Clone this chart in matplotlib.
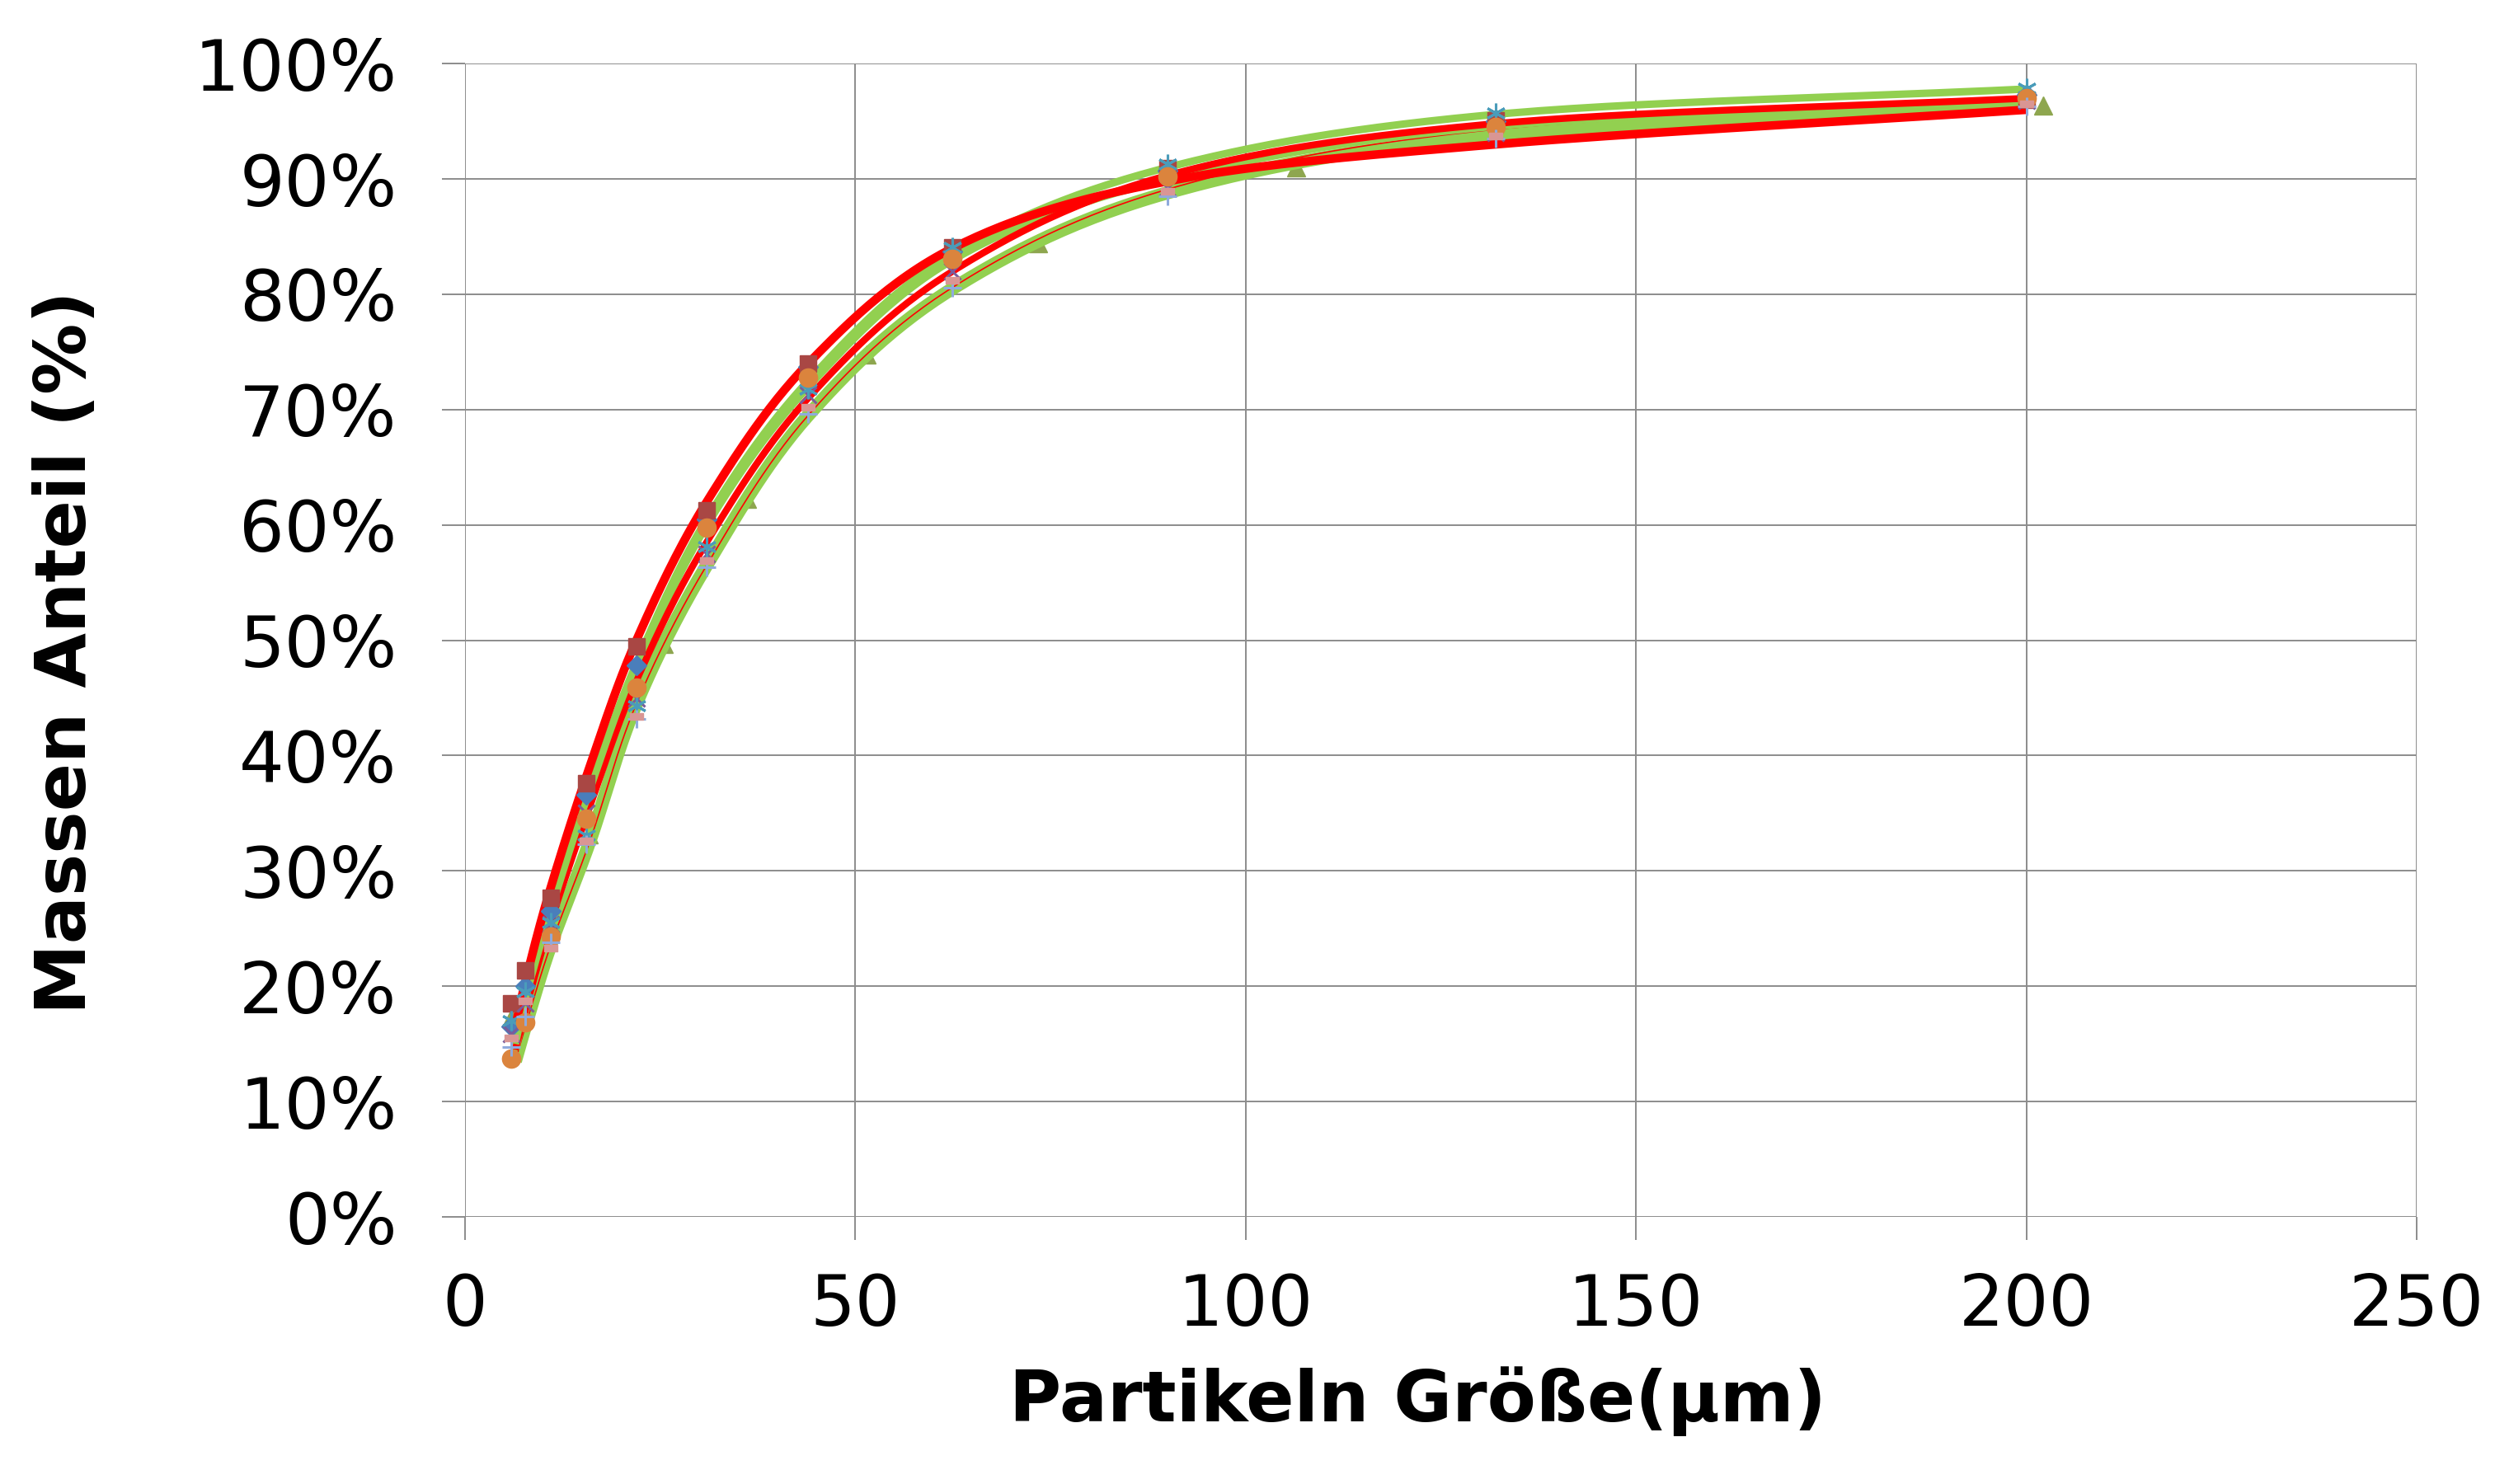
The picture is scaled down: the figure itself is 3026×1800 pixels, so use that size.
import numpy as np
import matplotlib
matplotlib.use("Agg")
import matplotlib.pyplot as plt
from matplotlib.path import Path

# ---------------- data ----------------
x_common = [6.0, 7.8, 11.0, 15.6, 22.0, 31.0, 44.0, 62.5, 90.0, 132.0, 200.0]

y_square = [18.5, 21.4, 27.7, 37.6, 49.5, 61.3, 74.0, 84.1, 90.9, 95.1, 96.9]
y_diamond = [16.5, 20.0, 26.5, 36.6, 47.8, 60.5, 73.7, 83.7, 90.7, 95.0, 97.3]
y_circle = [13.7, 16.9, 24.3, 34.5, 45.9, 59.8, 72.8, 83.1, 90.2, 94.5, 97.0]
y_asterisk = [17.0, 19.5, 25.5, 33.1, 44.3, 58.1, 71.8, 84.1, 91.3, 95.7, 97.9]
y_xmark = [15.9, 18.5, 25.4, 35.0, 45.0, 57.5, 71.3, 82.0, 89.2, 94.0, 96.8]
y_dash = [15.5, 18.7, 23.3, 32.6, 43.4, 56.9, 70.2, 81.2, 88.9, 93.7, 96.5]
y_plus = [14.7, 17.4, 23.8, 32.3, 43.2, 56.3, 69.6, 80.6, 88.5, 93.5, 96.3]

x_triangle = [6.0, 8.4, 10.9, 15.9, 25.5, 36.2, 51.5, 73.4, 106.5, 202.2]
y_triangle = [17.2, 21.7, 26.7, 33.2, 49.7, 62.3, 74.8, 84.4, 91.0, 96.4]

# smooth fitted curves (read at these sizes)
curve_x = [6.5, 8.0, 11.0, 16.0, 22.0, 31.0, 44.0, 62.5, 90.0, 132.0, 200.0]
red_1 = [16.5, 21.0, 28.5, 39.0, 50.0, 62.0, 74.0, 84.0, 89.8, 93.0, 96.0]
green_1 = [15.0, 19.5, 26.5, 37.0, 48.0, 60.5, 72.5, 83.5, 91.0, 95.6, 97.8]
green_2 = [14.5, 19.0, 26.0, 36.5, 47.5, 60.0, 72.0, 83.0, 90.0, 94.6, 96.7]
red_2 = [14.5, 18.5, 25.5, 35.5, 46.5, 58.5, 71.0, 82.0, 90.3, 94.8, 97.0]
green_3 = [13.5, 17.0, 23.5, 32.5, 44.5, 56.5, 69.5, 80.5, 88.8, 93.8, 96.3]
red_3 = [13.5, 17.0, 23.5, 32.5, 44.5, 56.5, 69.5, 80.6, 89.1, 94.3, 96.6]

x_ticks = [0, 50, 100, 150, 200, 250]
y_ticks = [0, 10, 20, 30, 40, 50, 60, 70, 80, 90, 100]

# ---------------- figure ----------------
W, H, DPI = 3026, 1800, 100
fig = plt.figure(figsize=(W / DPI, H / DPI), dpi=DPI)
fig.patch.set_facecolor("white")
ax = fig.add_axes([563.5 / W, 1 - 1476 / H, (2931 - 563.5) / W, (1476 - 77.2) / H])
ax.set_xlim(0, 250)
ax.set_ylim(0, 100)

GRID = "#8c8c8c"
ax.set_xticks(x_ticks)
ax.set_yticks(y_ticks)
ax.set_xticklabels([str(v) for v in x_ticks])
ax.set_yticklabels([f"{v}%" for v in y_ticks])
ax.grid(True, color=GRID, linewidth=1.4, zorder=0)
ax.set_axisbelow(True)
for s in ax.spines.values():
    s.set_visible(False)
ax.tick_params(axis="both", direction="out", length=20, width=1.4, color=GRID,
               labelsize=62, labelcolor="black")
ax.tick_params(axis="x", pad=28)
ax.tick_params(axis="y", pad=39)
for lab in ax.get_xticklabels() + ax.get_yticklabels():
    lab.set_fontfamily("DejaVu Sans")


def smooth(xs, ys, n=30):
    """Excel-like smoothed line: Catmull-Rom through the given points in display space."""
    pts = ax.transData.transform(np.column_stack([xs, ys]))
    P = np.vstack([pts[0] - (pts[1] - pts[0]), pts, pts[-1] + (pts[-1] - pts[-2])])
    out = []
    for i in range(1, len(P) - 2):
        p0, p1, p2, p3 = P[i - 1], P[i], P[i + 1], P[i + 2]
        t = np.linspace(0, 1, n, endpoint=False)[:, None]
        seg = 0.5 * ((2 * p1) + (-p0 + p2) * t + (2 * p0 - 5 * p1 + 4 * p2 - p3) * t ** 2
                     + (-p0 + 3 * p1 - 3 * p2 + p3) * t ** 3)
        out.append(seg)
    out.append(P[-2][None, :])
    out = np.vstack(out)
    d = ax.transData.inverted().transform(out)
    return d[:, 0], d[:, 1]


RED = "#ff0000"
GREEN = "#92d050"

# triangles lie below the curves
ax.plot(x_triangle, y_triangle, linestyle="none", marker="^", markersize=16,
        color="#8ea64f", markeredgecolor="#8ea64f", zorder=2)

# curves
for ys, col, lw, z in [
    (green_3, GREEN, 11.5, 3),
    (red_3, RED, 1.2, 3.1),
    (green_2, GREEN, 7.0, 3.2),
    (red_2, RED, 6.0, 3.3),
    (green_1, GREEN, 6.5, 3.4),
    (red_1, RED, 7.5, 3.5),
]:
    sx, sy = smooth(curve_x, ys)
    ax.plot(sx, sy, color=col, linewidth=lw, solid_capstyle="butt", zorder=z)

# other marker series on top
dash_marker = Path([(-1, -0.45), (1, -0.45), (1, 0.45), (-1, 0.45), (-1, -0.45)],
                   [Path.MOVETO, Path.LINETO, Path.LINETO, Path.LINETO, Path.CLOSEPOLY])

ax.plot(x_common, y_diamond, linestyle="none", marker="D", markersize=12,
        color="#4a7ebb", markeredgecolor="#4a7ebb", zorder=5)
ax.plot(x_common, y_square, linestyle="none", marker="s", markersize=15,
        color="#a94744", markeredgecolor="#a94744", zorder=5.1)
ax.plot(x_common, y_xmark, linestyle="none", marker="x", markersize=15,
        markeredgewidth=2.2, color="#7a5c9a", zorder=5.2)
ax.plot(x_common, y_asterisk, linestyle="none", marker=(6, 2, 0), markersize=17,
        markeredgewidth=2.2, color="#4a9cba", zorder=5.3)
ax.plot(x_common, y_circle, linestyle="none", marker="o", markersize=16,
        color="#db843d", markeredgecolor="#db843d", zorder=5.4)
ax.plot(x_common, y_plus, linestyle="none", marker="+", markersize=16,
        markeredgewidth=2.2, color="#8faadc", zorder=5.5)
ax.plot(x_common, y_dash, linestyle="none", marker=dash_marker, markersize=12,
        color="#d99694", markeredgecolor="#d99694", zorder=5.6)

# axis titles
fig.text(1719 / W, 1 - 1700 / H, "Partikeln Größe(µm)", ha="center", va="center",
         fontsize=62, fontweight="bold", family="DejaVu Sans")
fig.text(81 / W, 1 - 791 / H, "Massen Anteil (%)", ha="center", va="center",
         rotation=90, fontsize=62, fontweight="bold", family="DejaVu Sans")

fig.savefig("out.png", dpi=DPI, facecolor="white")
